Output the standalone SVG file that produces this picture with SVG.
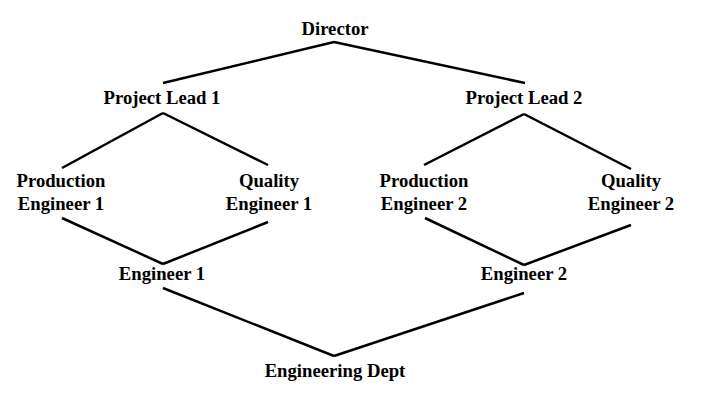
<svg xmlns="http://www.w3.org/2000/svg" width="708" height="400" viewBox="0 0 708 400">
<style>
text{font-family:"Liberation Serif","Times New Roman",serif;font-weight:bold;font-size:18.7px;fill:#000;text-anchor:middle}
.c line{stroke:#000;stroke-width:2.5;stroke-linecap:butt}
</style>
<rect width="708" height="400" fill="#fff"/>
<g class="c" id="connectors">
<line x1="334" y1="42" x2="163" y2="83"/>
<line x1="334" y1="42" x2="525" y2="83"/>
<line x1="163" y1="113" x2="62" y2="168"/>
<line x1="163" y1="113" x2="268" y2="165"/>
<line x1="524" y1="114" x2="424" y2="165"/>
<line x1="524" y1="114" x2="631" y2="169"/>
<line x1="62" y1="218" x2="163" y2="264"/>
<line x1="268" y1="222" x2="163" y2="264"/>
<line x1="425" y1="218" x2="524" y2="265"/>
<line x1="631" y1="225" x2="524" y2="265"/>
<line x1="163" y1="288" x2="334" y2="356"/>
<line x1="524" y1="293" x2="334" y2="356"/>
</g>
<g id="director"><text x="335" y="35">Director</text></g>
<g id="lead1"><text x="162" y="104">Project Lead 1</text></g>
<g id="lead2"><text x="524" y="104">Project Lead 2</text></g>
<g id="prod1"><text x="61" y="187">Production</text><text x="61" y="210">Engineer 1</text></g>
<g id="qual1"><text x="269" y="187">Quality</text><text x="269" y="210">Engineer 1</text></g>
<g id="prod2"><text x="424" y="187">Production</text><text x="424" y="210">Engineer 2</text></g>
<g id="qual2"><text x="631" y="187">Quality</text><text x="631" y="210">Engineer 2</text></g>
<g id="eng1"><text x="162" y="280">Engineer 1</text></g>
<g id="eng2"><text x="524" y="280">Engineer 2</text></g>
<g id="dept"><text x="335" y="377">Engineering Dept</text></g>
</svg>
